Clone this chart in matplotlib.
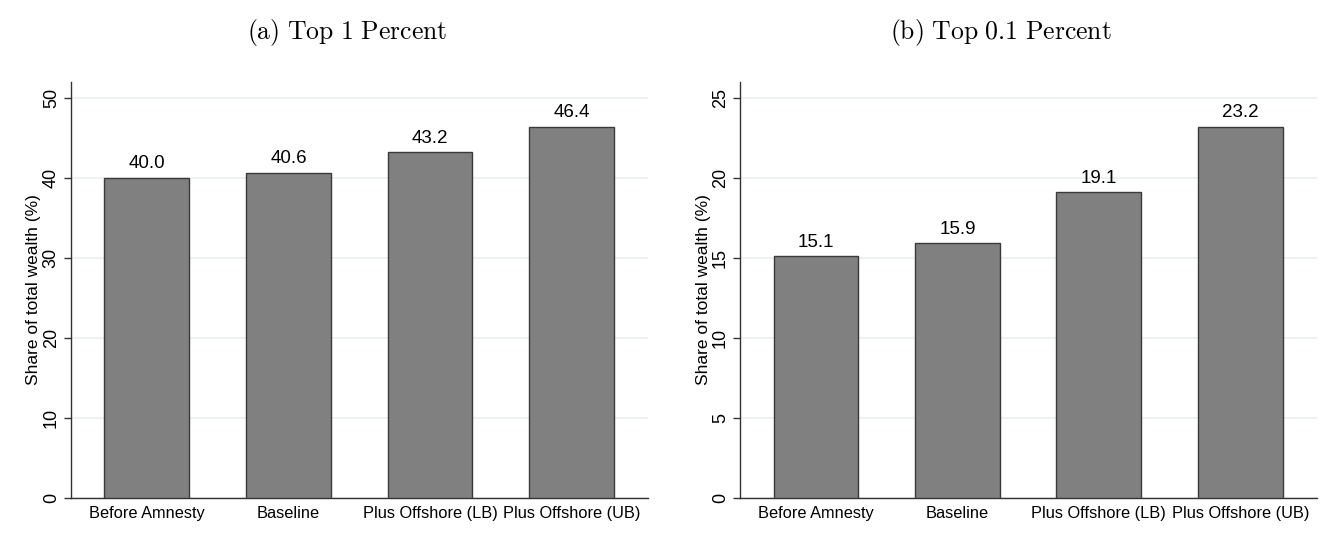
import matplotlib
matplotlib.use("Agg")
import matplotlib.pyplot as plt
import numpy as np

# Datos de las dos figuras
categorias = ["Before Amnesty", "Baseline", "Plus Offshore (LB)", "Plus Offshore (UB)"]
top1 = [40.0, 40.6, 43.2, 46.4]
top01 = [15.1, 15.9, 19.1, 23.2]
titulos = [r"$\mathrm{(a)\ Top\ 1\ Percent}$", r"$\mathrm{(b)\ Top\ 0.1\ Percent}$"]
yticks_1 = [0, 10, 20, 30, 40, 50]
yticks_01 = [0, 5, 10, 15, 20, 25]

plt.rcParams["font.family"] = ["Liberation Sans", "DejaVu Sans"]
plt.rcParams["mathtext.fontset"] = "cm"

fig = plt.figure(figsize=(13.21, 5.36), dpi=100)
ax1 = fig.add_axes([0.0537, 0.0709, 0.4368, 0.7767])
ax2 = fig.add_axes([0.5602, 0.0709, 0.4365, 0.7767])

paneles = [(ax1, top1, yticks_1, 52), (ax2, top01, yticks_01, 26)]
x = np.arange(len(categorias))

for i, (ax, valores, yt, ytop) in enumerate(paneles):
    ax.bar(x, valores, width=0.6, color="#808080", edgecolor="#3a3a3a", linewidth=1.0, zorder=3)
    for xi, v in zip(x, valores):
        ax.annotate(f"{v:.1f}", (xi, v), xytext=(0, 4), textcoords="offset points",
                    ha="center", va="bottom", fontsize=13.5, color="black")
    ax.set_xlim(-0.537, 3.54)
    ax.set_ylim(0, ytop)
    ax.set_yticks(yt)
    ax.set_yticklabels([str(t) for t in yt], rotation=90, va="center", fontsize=13)
    ax.set_xticks(x)
    ax.set_xticklabels(categorias, fontsize=11.8)
    ax.tick_params(axis="x", length=0, pad=6)
    ax.tick_params(axis="y", length=5, width=1, color="#333333", pad=3)
    ax.grid(axis="y", color="#EAF2F3", linewidth=1.5, zorder=0)
    for s in ["top", "right"]:
        ax.spines[s].set_visible(False)
    for s in ["left", "bottom"]:
        ax.spines[s].set_color("#333333")
        ax.spines[s].set_linewidth(1.0)
    ax.set_ylabel("Share of total wealth (%)", fontsize=12.5, labelpad=1)

fig.text(347 / 1321, 1 - 32 / 536, titulos[0], ha="center", va="center", fontsize=18.5)
fig.text(1001 / 1321, 1 - 32 / 536, titulos[1], ha="center", va="center", fontsize=18.5)

fig.savefig("out.png", dpi=100, facecolor="white")
